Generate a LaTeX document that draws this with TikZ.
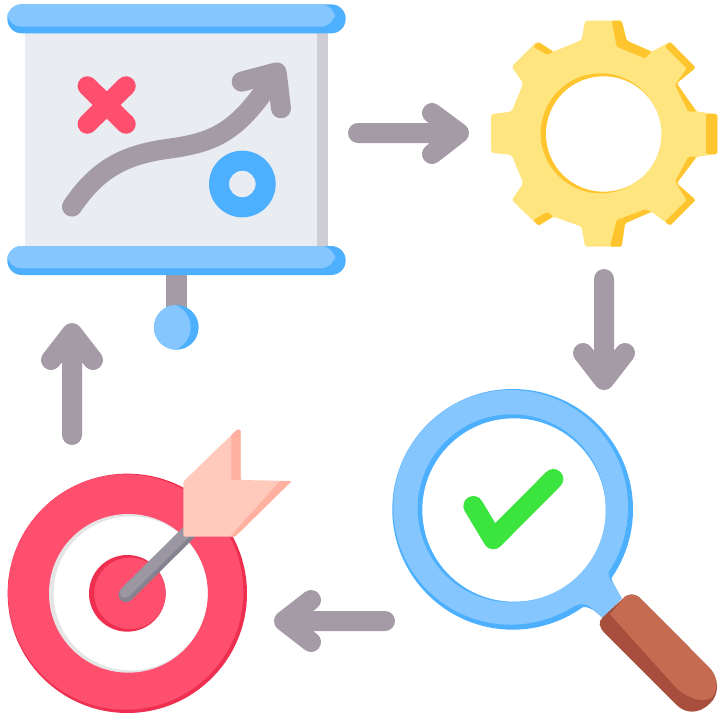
\documentclass[tikz,border=0pt]{standalone}
\definecolor{greyarrow}{HTML}{A59BA7}
\definecolor{bluelight}{HTML}{85C6FE}
\definecolor{bluedark}{HTML}{4DB0FF}
\definecolor{panel}{HTML}{E9EDF2}
\definecolor{panelshade}{HTML}{CFCDD4}
\definecolor{redmain}{HTML}{FF4F6E}
\definecolor{reddark}{HTML}{EF2F50}
\definecolor{gearlight}{HTML}{FFE57F}
\definecolor{geardark}{HTML}{FFC52E}
\definecolor{checkgreen}{HTML}{3CE43F}
\definecolor{handlelight}{HTML}{C46B52}
\definecolor{handledark}{HTML}{A84E3C}
\definecolor{featherlight}{HTML}{FFCABB}
\definecolor{featherdark}{HTML}{FFB0A1}
\definecolor{shaftgrey}{HTML}{9A97A3}
\definecolor{shaftdark}{HTML}{85828F}
\tikzset{
  flowarrow/.style={draw=greyarrow,line width=20pt,line cap=round,line join=round},
  flowhead/.style={fill=greyarrow},
  zoomed/.style={x=0.33333pt,y=-0.33333pt},
}
\begin{document}
\begin{tikzpicture}[x=1pt,y=-1pt]
\useasboundingbox (0,0) rectangle (719,716);
\fill[white] (0,0) rectangle (719,716);

% ---- arrows
\coordinate (aRightS) at (358,133); \coordinate (aRightT) at (459,133);
\coordinate (aRightA) at (432,113); \coordinate (aRightB) at (432,154);
\draw[flowarrow] (aRightS) -- (aRightT) (aRightA) -- (aRightT) -- (aRightB);
\fill[flowhead] (aRightA) -- (aRightT) -- (aRightB) -- cycle;
\coordinate (aDownS) at (604,279); \coordinate (aDownT) at (604,380);
\coordinate (aDownA) at (583,353); \coordinate (aDownB) at (625,353);
\draw[flowarrow] (aDownS) -- (aDownT) (aDownA) -- (aDownT) -- (aDownB);
\fill[flowhead] (aDownA) -- (aDownT) -- (aDownB) -- cycle;
\coordinate (aLeftS) at (385,621); \coordinate (aLeftT) at (284,621);
\coordinate (aLeftA) at (311,600); \coordinate (aLeftB) at (311,642);
\draw[flowarrow] (aLeftS) -- (aLeftT) (aLeftA) -- (aLeftT) -- (aLeftB);
\fill[flowhead] (aLeftA) -- (aLeftT) -- (aLeftB) -- cycle;
\coordinate (aUpS) at (72,435); \coordinate (aUpT) at (72,333);
\coordinate (aUpA) at (51,360); \coordinate (aUpB) at (93,360);
\draw[flowarrow] (aUpS) -- (aUpT) (aUpA) -- (aUpT) -- (aUpB);
\fill[flowhead] (aUpA) -- (aUpT) -- (aUpB) -- cycle;

% ---- presentation board
\begin{scope}[zoomed]
\fill[greyarrow] (498,820) rectangle (562,940);
\fill[bluedark] (529,982) circle[radius=67];
\begin{scope}
\clip (529,982) circle[radius=67];
\fill[bluelight] (500,982) circle[radius=72];
\end{scope}
\fill[panel] (76,90) rectangle (950,750);
\fill[panelshade] (950,90) rectangle (983,750);
\foreach \ytop in {13,738}{
  \fill[bluedark,rounded corners=14.3pt] (22,\ytop) rectangle ++(1015,87);
  \fill[bluelight,rounded corners=14pt] (22,\ytop) -- ++(0,67) -- ++(983,0) -- ++(0,-67) -- cycle;
}
\draw[redmain,line width=19.5pt,line cap=round] (262,258) -- (378,372) (378,258) -- (262,372);
\fill[bluedark,even odd rule] (727,552) circle[radius=100] (727,552) circle[radius=40];
\draw[greyarrow,line width=20pt,line cap=round,line join=round]
  (216,620) .. controls (290,510) and (370,465) .. (500,447)
  .. controls (640,428) and (710,400) .. (815,240);
\draw[greyarrow,line width=20pt,line cap=round,line join=round]
  (725,245) -- (830,217) -- (843,325);
\end{scope}

% ---- gear
\begin{scope}[zoomed,shift={(1410,0)}]
\fill[gearlight,rounded corners=2pt] (345,62)--(455,62)--(470,122)--(545,155)--(600,125)--(677,203)--(620,250)
  --(680,335)--(742,342)--(742,462)--(680,470)--(620,550)--(677,600)--(600,677)--(545,635)--(465,670)
  --(455,740)--(345,740)--(335,680)--(250,650)--(205,677)--(125,600)--(160,550)--(125,465)--(63,458)
  --(63,342)--(125,335)--(160,250)--(125,200)--(200,125)--(250,155)--(335,120)--cycle;
\fill[geardark,rounded corners=1.5pt] (425,62)--(455,62)--(470,122)--(545,155)--(525,175)--(440,140)--cycle;
\fill[geardark,rounded corners=1.5pt] (190,140)--(205,125)--(250,155)--(232,165)--cycle;
\fill[geardark,rounded corners=1.5pt] (585,140)--(600,125)--(677,203)--(620,250)--(680,335)--(655,335)--(615,255)--(650,205)--cycle;
\fill[geardark,rounded corners=1.5pt] (708,342)--(742,342)--(742,462)--(708,462)--cycle;
\fill[geardark,rounded corners=1.5pt] (655,470)--(680,470)--(620,550)--(677,600)--(600,677)--(585,665)--(650,600)--(615,545)--cycle;
\fill[geardark,rounded corners=1.5pt] (420,740)--(455,740)--(465,670)--(545,635)--(525,628)--(440,660)--cycle;
\fill[geardark,rounded corners=1.5pt] (190,660)--(205,677)--(250,650)--(232,635)--cycle;
\fill[geardark] (392,400) circle[radius=180];
\fill[white] (401,402) circle[radius=173];
\end{scope}

% ---- magnifier
\begin{scope}[zoomed,shift={(1140,1140)}]
\fill[bluedark] (398,388) circle[radius=361];
\fill[bluedark] (730,520) .. controls (700,565) and (685,585) .. (700,610) -- (725,655)
  -- (670,715) -- (640,690) .. controls (620,678) and (600,672) .. (540,715) -- cycle;
\fill[bluelight] (392,382) circle[radius=352];
\fill[bluelight] (685,560) .. controls (685,585) and (685,595) .. (700,612) -- (725,655)
  -- (670,715) -- (640,688) .. controls (620,670) and (600,665) .. (560,690) -- (500,500) -- cycle;
\fill[bluedark] (395,385) circle[radius=282];
\fill[white] (402,390) circle[radius=275];
\draw[checkgreen,line width=20pt,line cap=round,line join=round] (280,378) -- (340,478) -- (520,297);
\fill[handledark] (668,712) -- (735,650) .. controls (750,640) and (765,642) .. (778,652)
  -- (985,860) .. controls (1020,895) and (1018,945) .. (990,970)
  .. controls (955,1005) and (915,1000) .. (890,975)
  -- (675,760) .. controls (655,740) and (655,725) .. (668,712) -- cycle;
\fill[handlelight] (690,703) -- (735,650) .. controls (750,640) and (765,642) .. (778,652)
  -- (985,860) .. controls (1015,890) and (1015,925) .. (998,950)
  .. controls (975,970) and (930,960) .. (890,925) -- cycle;
\end{scope}

% ---- target
\begin{scope}[zoomed,shift={(0,1260)}]
\fill[reddark] (382,520) circle[radius=359];
\fill[redmain] (377,516) circle[radius=353];
\fill[white!90!black] (385,520) circle[radius=238];
\fill[white] (392,520) circle[radius=231];
\fill[reddark] (382,520) circle[radius=115];
\fill[redmain] (390,520) circle[radius=107];
\draw[shaftdark,line width=15pt,line cap=round] (378,524) -- (570,334);
\draw[shaftgrey,line width=11pt,line cap=round] (375,518) -- (560,335);
\fill[featherlight,rounded corners=1.5pt] (550,185) -- (712,28) -- (722,30) -- (722,180) -- (875,183) -- (705,350) -- (550,350) -- cycle;
\fill[featherdark,rounded corners=1pt] (694,45) -- (712,28) -- (722,30) -- (722,180) -- (694,180) -- cycle;
\fill[featherdark,rounded corners=1pt] (840,183) -- (875,183) -- (705,350) -- (690,350) -- cycle;
\end{scope}
\end{tikzpicture}
\end{document}
